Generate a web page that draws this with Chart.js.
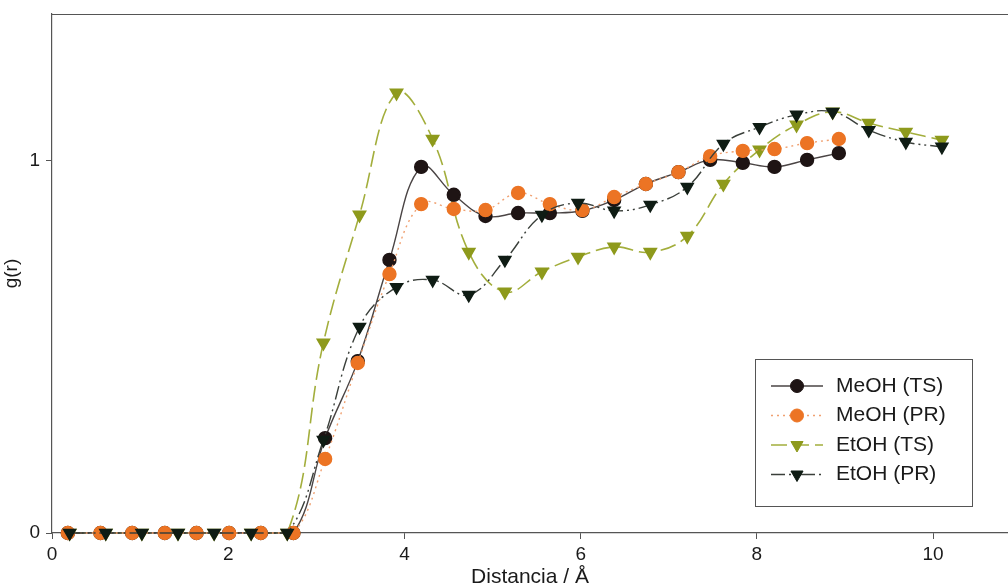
<!DOCTYPE html>
<html>
<head>
<meta charset="utf-8">
<script src="https://cdn.jsdelivr.net/npm/chart.js@4"></script>
<style>
html, body { margin: 0; padding: 0; background: #fff; }
</style>
</head>
<body>
<canvas id="myChart" width="1008" height="586"></canvas>
<script>
// distances (Å) for the methanol and ethanol runs
var rMeOH = [0.18, 0.55, 0.91, 1.28, 1.64, 2.01, 2.37, 2.74, 3.10, 3.47, 3.83, 4.19, 4.56,
             4.92, 5.29, 5.65, 6.02, 6.38, 6.74, 7.11, 7.47, 7.84, 8.20, 8.57, 8.93];
var rEtOH = [0.20, 0.61, 1.02, 1.43, 1.84, 2.26, 2.67, 3.08, 3.49, 3.91, 4.32, 4.73, 5.14,
             5.56, 5.97, 6.38, 6.79, 7.21, 7.62, 8.03, 8.45, 8.86, 9.27, 9.69, 10.10];

// g(r) values
var gMeOH_TS = [0, 0, 0, 0, 0, 0, 0, 0, 0.255, 0.462, 0.734, 0.984, 0.909,
                0.852, 0.860, 0.860, 0.866, 0.895, 0.938, 0.970, 1.003, 0.995, 0.984, 1.003, 1.021];
var gMeOH_PR = [0, 0, 0, 0, 0, 0, 0, 0, 0.199, 0.457, 0.696, 0.884, 0.871,
                0.868, 0.914, 0.884, 0.868, 0.903, 0.938, 0.970, 1.013, 1.027, 1.032, 1.048, 1.059];
var gEtOH_TS = [0, 0, 0, 0, 0, 0, 0, 0.511, 0.855, 1.183, 1.059, 0.755, 0.648,
                0.702, 0.742, 0.769, 0.755, 0.798, 0.938, 1.030, 1.097, 1.132, 1.102, 1.078, 1.056];
var gEtOH_PR = [0, 0, 0, 0, 0, 0, 0, 0.250, 0.554, 0.661, 0.680, 0.640, 0.734,
                0.855, 0.887, 0.866, 0.882, 0.930, 1.046, 1.091, 1.124, 1.132, 1.083, 1.051, 1.038];

var seriesNames = ['MeOH (TS)', 'MeOH (PR)', 'EtOH (TS)', 'EtOH (PR)'];
var xTicks = [0, 2, 4, 6, 8, 10];
var yTicks = [0, 1];

function pts(xs, ys) {
    return xs.map(function (x, i) { return { x: x, y: ys[i] }; });
}

var FONT = "'Liberation Sans', Arial, sans-serif";

// draws the boxed legend and the top frame line
var frameAndLegend = {
    id: 'frameAndLegend',
    afterDraw: function (chart) {
        var ctx = chart.ctx;
        var area = chart.chartArea;
        ctx.save();
        ctx.strokeStyle = '#555';
        ctx.lineWidth = 1.2;
        ctx.beginPath();
        ctx.moveTo(area.left, area.top + 0.5);
        ctx.lineTo(area.right, area.top + 0.5);
        ctx.stroke();

        // legend box
        var bx = 755, by = 359, bw = 217, bh = 147;
        ctx.fillStyle = '#fff';
        ctx.fillRect(bx, by, bw, bh);
        ctx.strokeStyle = '#555';
        ctx.lineWidth = 1;
        ctx.strokeRect(bx + 0.5, by + 0.5, bw, bh);

        chart.data.datasets.forEach(function (ds, i) {
            var y = by + 27 + i * 29.5;
            ctx.save();
            ctx.strokeStyle = ds.borderColor;
            ctx.lineWidth = ds.borderWidth;
            ctx.setLineDash(ds.borderDash || []);
            ctx.beginPath();
            ctx.moveTo(771, y);
            ctx.lineTo(823, y);
            ctx.stroke();
            ctx.setLineDash([]);
            ctx.fillStyle = ds.pointBackgroundColor;
            ctx.strokeStyle = ds.pointBorderColor;
            ctx.lineWidth = 1;
            Chart.helpers.drawPoint(ctx, {
                pointStyle: ds.pointStyle,
                rotation: ds.pointRotation || 0,
                radius: ds.pointRadius,
                borderWidth: 1
            }, 797, y);
            ctx.fillStyle = '#1a1a1a';
            ctx.font = '21px ' + FONT;
            ctx.textBaseline = 'middle';
            ctx.fillText(ds.label, 836, y);
            ctx.restore();
        });
        ctx.restore();
    }
};

var ctx = document.getElementById('myChart').getContext('2d');
var chart = new Chart(ctx, {
    type: 'line',
    data: {
        datasets: [{
            label: seriesNames[0],
            data: pts(rMeOH, gMeOH_TS),
            borderColor: '#4a4444',
            borderWidth: 1.4,
            pointStyle: 'circle',
            pointRadius: 6.5,
            pointBackgroundColor: '#1e1414',
            pointBorderColor: '#1e1414',
            order: 2
        }, {
            label: seriesNames[1],
            data: pts(rMeOH, gMeOH_PR),
            borderColor: '#f0a070',
            borderWidth: 1.4,
            borderDash: [2, 4],
            pointStyle: 'circle',
            pointRadius: 6.5,
            pointBackgroundColor: '#ec7424',
            pointBorderColor: '#ec7424',
            order: 1
        }, {
            label: seriesNames[2],
            data: pts(rEtOH, gEtOH_TS),
            borderColor: '#a3ae3c',
            borderWidth: 1.6,
            borderDash: [16, 6],
            pointStyle: 'triangle',
            pointRotation: 180,
            pointRadius: 7,
            pointBackgroundColor: '#8e9a1c',
            pointBorderColor: '#8e9a1c',
            order: 3
        }, {
            label: seriesNames[3],
            data: pts(rEtOH, gEtOH_PR),
            borderColor: '#3a3f3a',
            borderWidth: 1.4,
            borderDash: [14, 4, 2, 4, 2, 4],
            pointStyle: 'triangle',
            pointRotation: 180,
            pointRadius: 7,
            pointBackgroundColor: '#0f1c14',
            pointBorderColor: '#0f1c14',
            order: 0
        }]
    },
    options: {
        responsive: false,
        animation: false,
        clip: false,
        layout: { autoPadding: false, padding: { top: 14, right: 0, left: 0, bottom: 0 } },
        elements: { line: { tension: 0.4, fill: false } },
        plugins: {
            legend: { display: false },
            tooltip: { enabled: false }
        },
        scales: {
            x: {
                type: 'linear',
                min: 0,
                max: 10.85,
                afterBuildTicks: function (scale) {
                    scale.ticks = xTicks.map(function (v) { return { value: v }; });
                },
                afterFit: function (scale) {
                    scale.height = 53;
                    scale.paddingLeft = 0;
                    scale.paddingRight = 0;
                },
                ticks: { color: '#1a1a1a', font: { family: FONT, size: 19 }, padding: 4, maxRotation: 0 },
                grid: { drawOnChartArea: false, drawTicks: true, tickLength: 6, color: '#555' },
                border: { color: '#555', width: 1.2 },
                title: {
                    display: true,
                    text: 'Distancia / Å',
                    color: '#1a1a1a',
                    font: { family: FONT, size: 21 },
                    padding: { top: 0, bottom: -4 }
                }
            },
            y: {
                min: 0,
                max: 1.395,
                afterBuildTicks: function (scale) {
                    scale.ticks = yTicks.map(function (v) { return { value: v }; });
                },
                afterFit: function (scale) {
                    scale.width = 52;
                    scale.paddingTop = 0;
                    scale.paddingBottom = 0;
                },
                ticks: { color: '#1a1a1a', font: { family: FONT, size: 19 }, padding: 6 },
                grid: { drawOnChartArea: false, drawTicks: true, tickLength: 6, color: '#555' },
                border: { color: '#555', width: 1.2 },
                title: {
                    display: true,
                    text: 'g(r)',
                    color: '#1a1a1a',
                    font: { family: FONT, size: 19 },
                    padding: { top: 0, bottom: 0 }
                }
            }
        }
    },
    plugins: [frameAndLegend]
});
</script>
</body>
</html>
